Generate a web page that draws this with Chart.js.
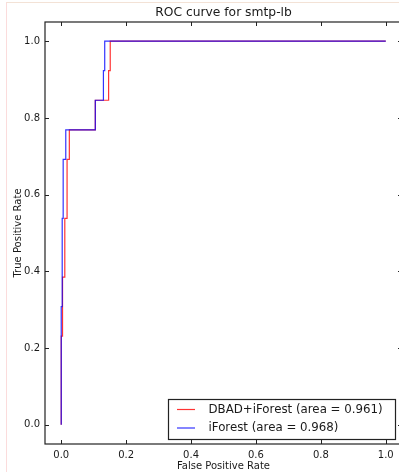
<!DOCTYPE html>
<html>
<head>
<meta charset="utf-8">
<script src="https://cdn.jsdelivr.net/npm/chart.js@4.4.1/dist/chart.umd.min.js"></script>
<style>
  html, body { margin: 0; padding: 0; overflow: hidden; background: #fff; }
  #wrap { position: relative; width: 399px; height: 472px; overflow: hidden; }
  #roc { position: absolute; left: 0; top: 0; }
  #edge { position: absolute; left: 6px; top: 2px; width: 420px; height: 480px;
          border-left: 1px solid #fbdcdc; border-top: 1px solid #f3e2d6; pointer-events: none; }
</style>
</head>
<body>
<div id="wrap">
  <canvas id="roc" width="406" height="472"></canvas>
  <div id="edge"></div>
</div>
<script>
const TITLE = 'ROC curve for smtp-lb';
const seriesLabels = ['DBAD+iForest (area = 0.961)', 'iForest (area = 0.968)'];
const seriesColors = ['rgba(255,0,0,0.8)', 'rgba(0,0,255,0.8)'];

// DBAD+iForest
const redFpr = [0, 0, 0.004, 0.004, 0.011, 0.011, 0.018, 0.018, 0.025, 0.025, 0.105, 0.105, 0.146, 0.146, 0.151, 0.151, 1.0];
const redTpr = [0, 0.231, 0.231, 0.385, 0.385, 0.538, 0.538, 0.692, 0.692, 0.769, 0.769, 0.846, 0.846, 0.923, 0.923, 1.0, 1.0];
// iForest
const blueFpr = [0, 0, 0.003, 0.003, 0.006, 0.006, 0.014, 0.014, 0.105, 0.105, 0.130, 0.130, 0.134, 0.134, 1.0];
const blueTpr = [0, 0.308, 0.308, 0.538, 0.538, 0.692, 0.692, 0.769, 0.769, 0.846, 0.846, 0.923, 0.923, 1.0, 1.0];

const xTicks = [0, 0.2, 0.4, 0.6, 0.8, 1.0];
const yTicks = [0, 0.2, 0.4, 0.6, 0.8, 1.0];

const FONT = '"DejaVu Sans", sans-serif';
const INK = '#1a1a1a';
const TICK_LEN = 4;

Chart.defaults.font.family = FONT;
Chart.defaults.color = INK;

const toPoints = (xs, ys) => xs.map((x, i) => ({ x: x, y: ys[i] }));

// spines, inward ticks, title and boxed legend, the matplotlib way
const mplFrame = {
  id: 'mplFrame',
  afterDraw(chart) {
    const { ctx, chartArea: a, scales } = chart;
    ctx.save();
    ctx.strokeStyle = '#222';
    ctx.lineWidth = 1.2;
    ctx.strokeRect(a.left, a.top, a.right - a.left, a.bottom - a.top);

    ctx.lineWidth = 1;
    ctx.beginPath();
    xTicks.forEach(v => {
      const px = Math.round(scales.x.getPixelForValue(v)) + 0.5;
      ctx.moveTo(px, a.bottom); ctx.lineTo(px, a.bottom - TICK_LEN);
      ctx.moveTo(px, a.top); ctx.lineTo(px, a.top + TICK_LEN);
    });
    yTicks.forEach(v => {
      const py = Math.round(scales.y.getPixelForValue(v)) + 0.5;
      ctx.moveTo(a.left, py); ctx.lineTo(a.left + TICK_LEN, py);
      ctx.moveTo(a.right, py); ctx.lineTo(a.right - TICK_LEN, py);
    });
    ctx.stroke();

    // title over the axes
    ctx.fillStyle = INK;
    ctx.font = '12.3px ' + FONT;
    ctx.textAlign = 'center';
    ctx.textBaseline = 'middle';
    ctx.fillText(TITLE, (a.left + a.right) / 2, 13);

    // legend, lower right
    const box = { x: 168.5, y: 399.5, w: 227, h: 40 };
    ctx.fillStyle = '#fff';
    ctx.fillRect(box.x, box.y, box.w, box.h);
    ctx.strokeStyle = '#222';
    ctx.lineWidth = 1.2;
    ctx.strokeRect(box.x, box.y, box.w, box.h);
    ctx.font = '11.8px ' + FONT;
    ctx.textAlign = 'left';
    seriesLabels.forEach((lab, i) => {
      const y = 409.5 + i * 18.5;
      ctx.strokeStyle = seriesColors[i];
      ctx.lineWidth = 1.2;
      ctx.beginPath();
      ctx.moveTo(177, y); ctx.lineTo(195, y);
      ctx.stroke();
      ctx.fillStyle = INK;
      ctx.fillText(lab, 208.5, y);
    });
    ctx.restore();
  }
};

new Chart(document.getElementById('roc'), {
  type: 'line',
  data: {
    datasets: [
      { label: seriesLabels[0], data: toPoints(redFpr, redTpr), borderColor: seriesColors[0],
        borderWidth: 1.2, pointRadius: 0, tension: 0, fill: false, order: 1 },
      { label: seriesLabels[1], data: toPoints(blueFpr, blueTpr), borderColor: seriesColors[1],
        borderWidth: 1.2, pointRadius: 0, tension: 0, fill: false, order: 0 }
    ]
  },
  options: {
    responsive: false,
    animation: false,
    devicePixelRatio: 1,
    layout: { padding: { left: 0, right: 4, top: 22, bottom: 0 } },
    plugins: { legend: { display: false }, tooltip: { enabled: false }, title: { display: false } },
    scales: {
      x: {
        type: 'linear', min: -0.05, max: 1.05,
        afterBuildTicks: s => { s.ticks = xTicks.map(v => ({ value: v })); },
        afterFit: s => { s.height = 28; },
        ticks: { callback: v => v.toFixed(1), font: { size: 10 }, color: INK, padding: 5,
                 maxRotation: 0, autoSkip: false },
        grid: { display: false, drawTicks: false },
        border: { display: false },
        title: { display: true, text: 'False Positive Rate', font: { size: 10 }, color: INK,
                 padding: { top: 0, bottom: 0 } }
      },
      y: {
        type: 'linear', min: -0.05, max: 1.05,
        afterBuildTicks: s => { s.ticks = yTicks.map(v => ({ value: v })); },
        afterFit: s => { s.width = 45; },
        ticks: { callback: v => v.toFixed(1), font: { size: 10 }, color: INK, padding: 5,
                 autoSkip: false },
        grid: { display: false, drawTicks: false },
        border: { display: false },
        title: { display: true, text: 'True Positive Rate', font: { size: 10 }, color: INK,
                 padding: { top: 12, bottom: 0 } }
      }
    }
  },
  plugins: [mplFrame]
});
</script>
</body>
</html>
